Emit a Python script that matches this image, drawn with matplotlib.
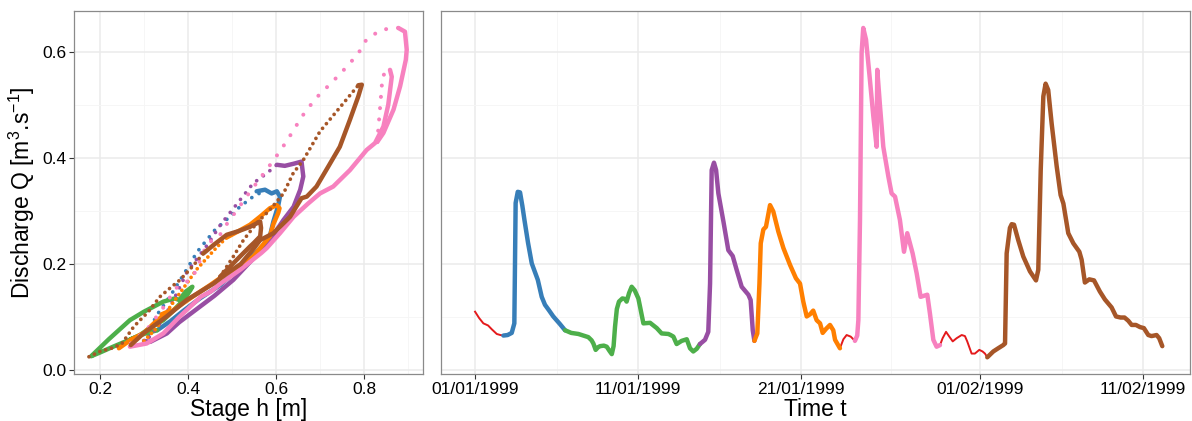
import numpy as np
import matplotlib
matplotlib.use('Agg')
import matplotlib.pyplot as plt
import matplotlib.dates as mdates
from matplotlib.ticker import MultipleLocator
from datetime import datetime, timedelta

plt.rcParams['font.family'] = ['Liberation Sans', 'DejaVu Sans']
plt.rcParams['mathtext.fontset'] = 'custom'
plt.rcParams['mathtext.rm'] = 'Liberation Sans'
plt.rcParams['mathtext.it'] = 'Liberation Sans:italic'

# event colours (Set1)
c_red = '#E41A1C'
c_blue = '#377EB8'
c_green = '#4DAF4A'
c_purple = '#984EA3'
c_orange = '#FF7F00'
c_pink = '#F781BF'
c_brown = '#A65628'

# ---------------- time series (days after 01/01/1999, discharge) ----------------
red1_t = [0.0, 0.25, 0.51, 0.8, 1.02, 1.33, 1.55, 1.74]
red1_q = [0.110, 0.098, 0.088, 0.084, 0.077, 0.068, 0.066, 0.065]

blue_t = [1.74, 2.0, 2.25, 2.41, 2.45, 2.49, 2.62, 2.76, 2.9, 3.03, 3.25, 3.48, 3.85, 4.09, 4.29, 4.55, 4.80, 5.2, 5.52]
blue_q = [0.065, 0.066, 0.070, 0.088, 0.200, 0.315, 0.336, 0.335, 0.310, 0.283, 0.240, 0.201, 0.170, 0.138, 0.123, 0.112, 0.101, 0.087, 0.075]

green_t = [5.52, 5.9, 6.34, 6.95, 7.15, 7.26, 7.40, 7.55, 7.67, 7.9, 8.08, 8.25, 8.39, 8.5, 8.59, 8.7, 8.83, 9.04,
           9.2, 9.30, 9.45, 9.61, 9.8, 10.02, 10.12, 10.25, 10.33, 10.74, 11.15, 11.45, 11.86, 12.0, 12.17, 12.37,
           12.68, 12.99, 13.19, 13.39, 13.6, 13.80]
green_q = [0.075, 0.070, 0.068, 0.062, 0.056, 0.050, 0.038, 0.043, 0.045, 0.046, 0.044, 0.036, 0.030, 0.045, 0.082,
           0.115, 0.129, 0.135, 0.134, 0.129, 0.145, 0.157, 0.150, 0.135, 0.120, 0.100, 0.088, 0.089, 0.079, 0.069,
           0.068, 0.066, 0.063, 0.049, 0.055, 0.058, 0.041, 0.035, 0.040, 0.049]

purple_t = [13.80, 14.11, 14.31, 14.42, 14.52, 14.66, 14.79, 14.93, 15.24, 15.54, 15.81, 16.05, 16.36, 16.77, 16.91, 17.04, 17.14]
purple_q = [0.049, 0.057, 0.072, 0.163, 0.377, 0.391, 0.377, 0.333, 0.280, 0.226, 0.215, 0.189, 0.157, 0.142, 0.132, 0.075, 0.055]

orange_t = [17.14, 17.32, 17.45, 17.53, 17.69, 17.85, 18.10, 18.30, 18.61, 18.92, 19.33, 19.69, 19.94, 20.14, 20.35,
            20.55, 20.75, 20.96, 21.17, 21.33, 21.55, 21.78, 21.98, 22.09, 22.39]
orange_q = [0.055, 0.069, 0.163, 0.239, 0.265, 0.270, 0.311, 0.299, 0.261, 0.230, 0.198, 0.173, 0.163, 0.129, 0.101,
            0.105, 0.112, 0.094, 0.088, 0.070, 0.078, 0.085, 0.075, 0.057, 0.041]

red2_t = [22.39, 22.6, 22.8, 23.05, 23.31]
red2_q = [0.041, 0.058, 0.066, 0.063, 0.055]

pink_t = [23.31, 23.45, 23.52, 23.62, 23.72, 23.82, 23.99, 24.23, 24.44, 24.64, 24.68, 24.85, 25.05, 25.36, 25.56,
          25.77, 26.07, 26.32, 26.52, 26.85, 27.10, 27.34, 27.75, 27.91, 28.12, 28.32, 28.53]
pink_q = [0.055, 0.065, 0.094, 0.283, 0.598, 0.645, 0.623, 0.547, 0.478, 0.421, 0.566, 0.497, 0.421, 0.365, 0.333,
          0.327, 0.283, 0.223, 0.258, 0.220, 0.182, 0.138, 0.142, 0.107, 0.057, 0.044, 0.047]

red3_t = [28.53, 28.69, 28.90, 29.10, 29.31, 29.55, 29.86, 30.06, 30.20, 30.47, 30.67, 30.94, 31.14, 31.29, 31.43]
red3_q = [0.047, 0.060, 0.072, 0.063, 0.054, 0.060, 0.066, 0.064, 0.054, 0.031, 0.031, 0.038, 0.035, 0.031, 0.024]

brown_t = [31.43, 31.80, 32.1, 32.41, 32.52, 32.62, 32.82, 32.93, 33.07, 33.33, 33.64, 34.05, 34.42, 34.56, 34.71,
           34.87, 35.01, 35.17, 35.38, 35.69, 35.93, 36.10, 36.40, 36.71, 37.08, 37.22, 37.42, 37.69, 37.98, 38.34,
           38.65, 39.06, 39.33, 39.61, 39.85, 40.08, 40.29, 40.55, 40.80, 41.04, 41.31, 41.51, 41.82, 41.98, 42.17]
brown_q = [0.024, 0.035, 0.041, 0.047, 0.050, 0.220, 0.268, 0.275, 0.274, 0.245, 0.214, 0.186, 0.169, 0.189, 0.377,
           0.516, 0.540, 0.528, 0.465, 0.384, 0.330, 0.314, 0.258, 0.239, 0.223, 0.208, 0.165, 0.171, 0.169, 0.148,
           0.133, 0.118, 0.101, 0.099, 0.099, 0.093, 0.085, 0.085, 0.081, 0.079, 0.066, 0.064, 0.066, 0.060, 0.045]

# ---------------- stage-discharge loops (rising = sparse points, falling = dense) ----------------
blue_rise_h = [0.31, 0.327, 0.36, 0.39, 0.421, 0.461, 0.495, 0.518, 0.548, 0.571]
blue_rise_q = [0.066, 0.101, 0.14, 0.18, 0.223, 0.264, 0.289, 0.308, 0.327, 0.337]
blue_fall_h = [0.556, 0.575, 0.59, 0.602, 0.609, 0.605, 0.594, 0.586, 0.571, 0.526, 0.473, 0.427, 0.39, 0.36, 0.33]
blue_fall_q = [0.337, 0.34, 0.333, 0.337, 0.327, 0.31, 0.28, 0.252, 0.235, 0.2, 0.16, 0.135, 0.112, 0.092, 0.075]

green_loop_h = [0.33, 0.30, 0.27, 0.23, 0.20, 0.18, 0.22, 0.268, 0.30, 0.344, 0.37, 0.38, 0.395, 0.41,
                0.405, 0.39, 0.37, 0.344, 0.315, 0.291, 0.27]
green_loop_q = [0.075, 0.068, 0.058, 0.044, 0.033, 0.026, 0.058, 0.094, 0.11, 0.129, 0.135, 0.132, 0.148, 0.157,
                0.150, 0.132, 0.115, 0.094, 0.08, 0.066, 0.058]

purple_rise_h = [0.30, 0.33, 0.36, 0.398, 0.444, 0.474, 0.512, 0.548, 0.579, 0.602]
purple_rise_q = [0.05, 0.08, 0.12, 0.185, 0.236, 0.274, 0.314, 0.352, 0.371, 0.387]
purple_fall_h = [0.602, 0.62, 0.64, 0.658, 0.662, 0.655, 0.64, 0.617, 0.586, 0.556, 0.503, 0.46, 0.42, 0.38, 0.352, 0.314, 0.30]
purple_fall_q = [0.387, 0.385, 0.389, 0.393, 0.365, 0.34, 0.308, 0.283, 0.245, 0.217, 0.17, 0.14, 0.115, 0.09, 0.069, 0.053, 0.055]

orange_rise_h = [0.30, 0.33, 0.36, 0.397, 0.42, 0.444, 0.466, 0.488]
orange_rise_q = [0.055, 0.08, 0.12, 0.163, 0.19, 0.212, 0.232, 0.25]
orange_fall_h = [0.488, 0.515, 0.541, 0.565, 0.586, 0.602, 0.608, 0.605, 0.594, 0.586, 0.566, 0.548, 0.518, 0.488,
                 0.45, 0.41, 0.37, 0.352, 0.34, 0.36, 0.33, 0.30, 0.27, 0.243]
orange_fall_q = [0.25, 0.262, 0.274, 0.29, 0.305, 0.311, 0.305, 0.296, 0.275, 0.252, 0.232, 0.214, 0.196, 0.182,
                 0.16, 0.138, 0.115, 0.101, 0.105, 0.112, 0.094, 0.07, 0.057, 0.041]

pink_rise_h = [0.27, 0.31, 0.345, 0.372, 0.41, 0.444, 0.469, 0.488, 0.54, 0.594, 0.615, 0.636, 0.658, 0.677, 0.696,
               0.73, 0.761, 0.787, 0.806, 0.840, 0.878]
pink_rise_q = [0.05, 0.08, 0.119, 0.154, 0.173, 0.239, 0.25, 0.275, 0.335, 0.395, 0.42, 0.447, 0.477, 0.498, 0.517,
               0.545, 0.572, 0.597, 0.624, 0.642, 0.645]
pink_fall1_h = [0.878, 0.893, 0.897, 0.895, 0.882, 0.867, 0.844, 0.83]
pink_fall1_q = [0.645, 0.638, 0.604, 0.585, 0.535, 0.491, 0.447, 0.43]
pink_rise2_h = [0.83, 0.837, 0.842, 0.85, 0.859]
pink_rise2_q = [0.43, 0.50, 0.553, 0.563, 0.566]
pink_fall2_h = [0.859, 0.863, 0.855, 0.844, 0.825, 0.806, 0.768, 0.730, 0.70, 0.673, 0.64, 0.609, 0.579, 0.567,
                0.52, 0.474, 0.452, 0.429, 0.38, 0.344, 0.306, 0.268]
pink_fall2_q = [0.566, 0.553, 0.50, 0.459, 0.428, 0.415, 0.377, 0.346, 0.333, 0.314, 0.289, 0.258, 0.23, 0.221,
                0.19, 0.163, 0.148, 0.138, 0.1, 0.069, 0.05, 0.044]

brown_rise_h = [0.175, 0.2, 0.23, 0.25, 0.277, 0.31, 0.336, 0.36, 0.382, 0.41, 0.435]
brown_rise_q = [0.025, 0.035, 0.042, 0.05, 0.082, 0.11, 0.138, 0.155, 0.17, 0.195, 0.22]
brown_mid_h = [0.435, 0.46, 0.488, 0.515, 0.541, 0.564, 0.566, 0.564, 0.55, 0.541, 0.511, 0.473]
brown_mid_q = [0.22, 0.237, 0.255, 0.262, 0.27, 0.28, 0.268, 0.252, 0.24, 0.233, 0.208, 0.176]
brown_rise2_h = [0.473, 0.503, 0.526, 0.556, 0.586, 0.617, 0.639, 0.662, 0.70, 0.74, 0.787]
brown_rise2_q = [0.176, 0.214, 0.245, 0.277, 0.302, 0.333, 0.371, 0.396, 0.45, 0.49, 0.537]
brown_fall_h = [0.787, 0.795, 0.787, 0.768, 0.745, 0.719, 0.692, 0.67, 0.658, 0.632, 0.594, 0.564, 0.55, 0.52,
                0.488, 0.458, 0.397, 0.35, 0.30, 0.27]
brown_fall_q = [0.537, 0.538, 0.516, 0.472, 0.421, 0.384, 0.346, 0.327, 0.324, 0.289, 0.258, 0.245, 0.23, 0.2,
                0.182, 0.163, 0.132, 0.1, 0.07, 0.047]


def dense(ax, h, q, col):
	ax.plot(h, q, color=col, lw=3.2, solid_capstyle='round', solid_joinstyle='round', zorder=3)


def sparse(ax, h, q, col, gap=2.0, lw=2.7):
	ax.plot(h, q, color=col, lw=lw, linestyle=(0, (0.01, gap)), dash_capstyle='round', zorder=3)


def style_axes(ax):
	ax.grid(True, which='major', color='#EBEBEB', lw=1.1)
	ax.grid(True, which='minor', color='#F5F5F5', lw=0.6)
	ax.set_axisbelow(True)
	for s in ax.spines.values():
		s.set_color('#8a8a8a')
		s.set_linewidth(0.9)
	ax.tick_params(which='major', length=3.5, width=0.8, color='#333333', labelsize=12.5, labelcolor='black', pad=2)
	ax.tick_params(which='minor', length=0)


fig = plt.figure(figsize=(11.92, 4.21), dpi=100)
ax1 = fig.add_axes([74 / 1192, 47 / 421, 349 / 1192, 363 / 421])
ax2 = fig.add_axes([441 / 1192, 47 / 421, 749 / 1192, 363 / 421])

# left: Q(h)
sparse(ax1, blue_rise_h, blue_rise_q, c_blue, gap=2.2)
dense(ax1, blue_fall_h, blue_fall_q, c_blue)
dense(ax1, green_loop_h, green_loop_q, c_green)
sparse(ax1, purple_rise_h, purple_rise_q, c_purple, gap=2.2)
dense(ax1, purple_fall_h, purple_fall_q, c_purple)
sparse(ax1, orange_rise_h, orange_rise_q, c_orange, gap=1.4)
dense(ax1, orange_fall_h, orange_fall_q, c_orange)
sparse(ax1, pink_rise_h, pink_rise_q, c_pink, gap=3.0, lw=2.9)
dense(ax1, pink_fall1_h, pink_fall1_q, c_pink)
sparse(ax1, pink_rise2_h, pink_rise2_q, c_pink, gap=2.8, lw=2.9)
dense(ax1, pink_fall2_h, pink_fall2_q, c_pink)
sparse(ax1, brown_rise_h, brown_rise_q, c_brown, gap=1.6)
dense(ax1, brown_mid_h, brown_mid_q, c_brown)
sparse(ax1, brown_rise2_h, brown_rise2_q, c_brown, gap=1.6)
dense(ax1, brown_fall_h, brown_fall_q, c_brown)

ax1.xaxis.set_major_locator(MultipleLocator(0.2))
ax1.xaxis.set_minor_locator(MultipleLocator(0.1))
ax1.yaxis.set_major_locator(MultipleLocator(0.2))
ax1.yaxis.set_minor_locator(MultipleLocator(0.1))
ax1.xaxis.set_major_formatter(plt.FuncFormatter(lambda v, p: '%.1f' % v))
ax1.yaxis.set_major_formatter(plt.FuncFormatter(lambda v, p: '%.1f' % v))
ax1.set_xlim(0.141, 0.934)
ax1.set_ylim(-0.0075, 0.677)
style_axes(ax1)
ax1.set_xlabel('Stage h [m]', fontsize=16.5, labelpad=1)
ax1.set_ylabel(r'Discharge Q [m$^{3}$.s$^{-1}$]', fontsize=16.5, labelpad=4)

# right: Q(t)
t0 = datetime(1999, 1, 1)


def to_dates(days):
	return [t0 + timedelta(days=d) for d in days]


for tt, qq in [(red1_t, red1_q), (red2_t, red2_q), (red3_t, red3_q)]:
	ax2.plot(to_dates(tt), qq, color=c_red, lw=1.4, zorder=3)
for tt, qq, col in [(blue_t, blue_q, c_blue), (green_t, green_q, c_green), (purple_t, purple_q, c_purple),
                    (orange_t, orange_q, c_orange), (pink_t, pink_q, c_pink), (brown_t, brown_q, c_brown)]:
	ax2.plot(to_dates(tt), qq, color=col, lw=3.2, solid_capstyle='round', solid_joinstyle='round', zorder=3)

tick_dates = [datetime(1999, 1, 1), datetime(1999, 1, 11), datetime(1999, 1, 21), datetime(1999, 2, 1), datetime(1999, 2, 11)]
minor_dates = [datetime(1999, 1, 6), datetime(1999, 1, 16), datetime(1999, 1, 26, 12), datetime(1999, 2, 6)]
ax2.set_xticks(tick_dates)
ax2.set_xticks(minor_dates, minor=True)
ax2.xaxis.set_major_formatter(mdates.DateFormatter('%d/%m/%Y'))
ax2.yaxis.set_major_locator(MultipleLocator(0.2))
ax2.yaxis.set_minor_locator(MultipleLocator(0.1))
ax2.set_xlim(t0 + timedelta(days=-2.09), t0 + timedelta(days=43.87))
ax2.set_ylim(-0.0075, 0.677)
style_axes(ax2)
ax2.tick_params(axis='y', which='both', left=False, labelleft=False)
ax2.set_xlabel('Time t', fontsize=16.5, labelpad=1)

fig.savefig('out.png', dpi=100)
